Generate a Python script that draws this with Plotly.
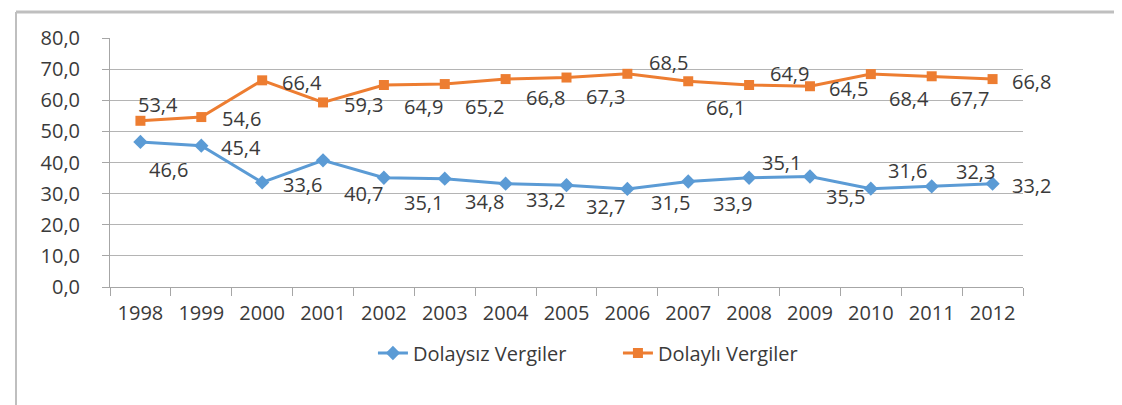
import plotly.graph_objects as go

years = [str(y) for y in range(1998, 2013)]
dolaysiz = [46.6, 45.4, 33.6, 40.7, 35.1, 34.8, 33.2, 32.7, 31.5, 33.9, 35.1, 35.5, 31.6, 32.3, 33.2]
dolayli = [53.4, 54.6, 66.4, 59.3, 64.9, 65.2, 66.8, 67.3, 68.5, 66.1, 64.9, 64.5, 68.4, 67.7, 66.8]
y_ticks = [0, 10, 20, 30, 40, 50, 60, 70, 80]

# label offsets in pixels (dx right, dy down) - style only
blue_off = [(28, 28), (40, 2), (40, 2), (40, 33), (40, 25), (40, 23), (40, 16), (39, 21),
            (43, 14), (44, 22), (32, -15), (36, 20), (37, -18), (44, -15), (39, 2)]
orange_off = [(18, -16), (40, 1), (40, 2), (40, 2), (40, 21), (40, 22), (40, 18), (39, 19),
              (41, -11), (37, 26), (40, -12), (39, 2), (38, 24), (38, 22), (39, 2)]

BLUE = "#5B9BD5"
ORANGE = "#ED7D31"
FONT = "Open Sans"
TXT = "#3A3A3A"
FS = 20

fig = go.Figure()
fig.add_trace(go.Scatter(x=years, y=dolaysiz, mode="lines+markers", name="Dolaysız Vergiler",
                         line=dict(color=BLUE, width=3),
                         marker=dict(symbol="diamond", size=11, color=BLUE)))
fig.add_trace(go.Scatter(x=years, y=dolayli, mode="lines+markers", name="Dolaylı Vergiler",
                         line=dict(color=ORANGE, width=3),
                         marker=dict(symbol="square", size=10, color=ORANGE)))

def fmt(v):
    return f"{v:.1f}".replace(".", ",")

for vals, offs in ((dolaysiz, blue_off), (dolayli, orange_off)):
    for i, (v, (dx, dy)) in enumerate(zip(vals, offs)):
        fig.add_annotation(x=i, y=v, xref="x", yref="y", text=fmt(v), showarrow=False,
                           xshift=dx, yshift=-dy, font=dict(family=FONT, size=FS, color=TXT))

fig.update_layout(
    width=1122, height=405,
    margin=dict(l=102, r=107, t=30, b=126),
    paper_bgcolor="white", plot_bgcolor="white",
    font=dict(family=FONT, size=FS, color=TXT),
    showlegend=True,
    legend=dict(orientation="h", x=0.288, xanchor="left", y=-0.265, yanchor="middle",
                font=dict(family=FONT, size=FS, color=TXT), entrywidth=200,
                bgcolor="rgba(0,0,0,0)"),
    xaxis=dict(type="category", range=[-0.5, len(years) - 0.5], showgrid=False,
               showline=True, linecolor="#A6A6A6", linewidth=1,
               ticks="outside", tickson="boundaries", ticklen=8, tickcolor="#A6A6A6",
               ticklabelstandoff=8,
               tickangle=0, tickfont=dict(family=FONT, size=FS, color=TXT)),
    yaxis=dict(range=[0, 80], tickvals=y_ticks, ticktext=[fmt(t) for t in y_ticks],
               showgrid=True, gridcolor="#B4B4B4", gridwidth=1, zeroline=False,
               showline=True, linecolor="#A6A6A6", linewidth=1,
               ticks="outside", ticklen=7, tickcolor="#A6A6A6",
               ticklabelstandoff=18,
               tickfont=dict(family=FONT, size=FS, color=TXT)),
    shapes=[
        dict(type="line", xref="paper", yref="paper", x0=(8 - 102) / 913, x1=(1122 - 102) / 913,
             y0=(279 - 4) / 249, y1=(279 - 4) / 249, line=dict(color="#BFBFBF", width=3)),
        dict(type="line", xref="paper", yref="paper", x0=(8 - 102) / 913, x1=(8 - 102) / 913,
             y0=(279 - 4) / 249, y1=(279 - 405) / 249, line=dict(color="#BFBFBF", width=2)),
    ],
)

fig.write_html("out.html")
